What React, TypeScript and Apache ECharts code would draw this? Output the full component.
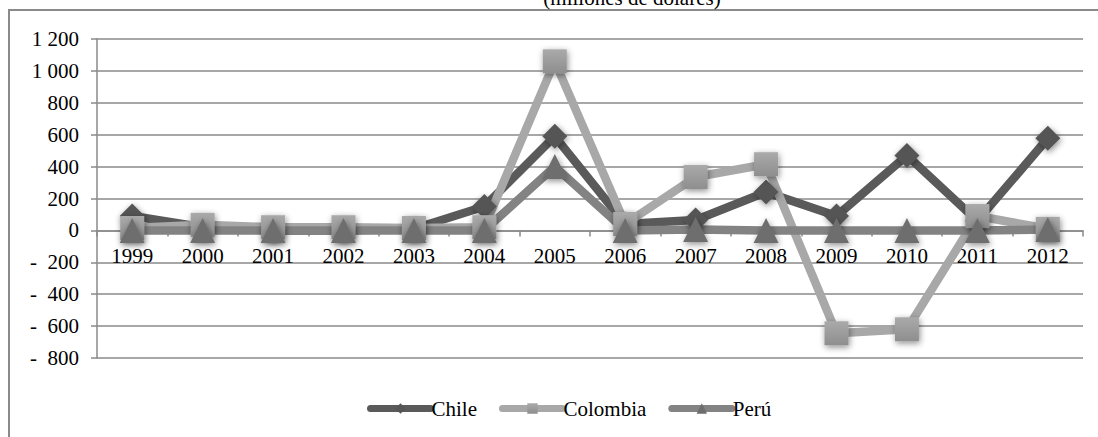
import { useEffect, useRef } from "react";
import * as echarts from "echarts";

// Annual flows by country, 1999–2012 (millions of US dollars)
const years = ["1999", "2000", "2001", "2002", "2003", "2004", "2005", "2006", "2007", "2008", "2009", "2010", "2011", "2012"];
const chile = [90, 20, 0, 0, 10, 150, 590, 40, 65, 240, 90, 470, 60, 577];
const colombia = [15, 35, 20, 20, 15, 20, 1060, 40, 335, 415, -645, -620, 90, 10];
const peru = [0, 0, 0, 0, 0, 0, 400, 0, 5, 0, 0, 0, 0, 5];
const seriesNames = ["Chile", "Colombia", "Perú"];
const yMin = -800;
const yMax = 1200;
const yStep = 200;
const titleText = "(millones de dólares)";

const FONT = '"Liberation Serif", "Times New Roman", serif';
const GRID_GRAY = "#8a8a8a";

// Plot box geometry
const GRID_TOP = 39;
const GRID_BOTTOM = 79;
const PLOT_HEIGHT = 437 - GRID_TOP - GRID_BOTTOM;

// Thousands separated by a space, negatives shown as "-  200"
function formatValue(v: number): string {
  const a = Math.abs(v);
  const body = a >= 1000 ? `${Math.floor(a / 1000)}\u00a0${String(a % 1000).padStart(3, "0")}` : String(a);
  return v < 0 ? `-\u00a0\u00a0${body}` : body;
}

// The category axis sits on the zero line: lift it from the plot's bottom edge
const zeroOffset = -PLOT_HEIGHT * (0 - yMin) / (yMax - yMin);

const markerShadow = {
  shadowBlur: 6,
  shadowColor: "rgba(0,0,0,0.45)",
  shadowOffsetX: 1,
  shadowOffsetY: 2,
};

export default function App() {
  const ref = useRef<HTMLDivElement>(null);

  useEffect(() => {
    if (!ref.current) return;
    const chart = echarts.init(ref.current, null, { renderer: "svg" });
    chart.setOption({
      animation: false,
      backgroundColor: "#ffffff",
      textStyle: { fontFamily: FONT },
      graphic: [
        {
          type: "rect",
          silent: true,
          shape: { x: 9, y: 10, width: 1100, height: 440 },
          style: { fill: "none", stroke: GRID_GRAY, lineWidth: 2 },
        },
        {
          type: "text",
          silent: true,
          x: 632,
          y: -2,
          style: {
            text: titleText,
            fontFamily: FONT,
            fontSize: 21,
            fill: "#000",
            align: "center",
            verticalAlign: "middle",
          },
        },
      ],
      grid: { left: 97, right: 15, top: GRID_TOP, bottom: GRID_BOTTOM, containLabel: false },
      legend: {
        data: seriesNames,
        left: 362,
        top: 393,
        itemWidth: 60,
        itemHeight: 13,
        itemGap: 22,
        textStyle: { fontFamily: FONT, fontSize: 21, color: "#000", padding: [0, 0, 0, -4] },
        lineStyle: { width: 7, cap: "round" },
        selectedMode: false,
      },
      xAxis: {
        type: "category",
        data: years,
        boundaryGap: true,
        position: "bottom",
        offset: zeroOffset,
        axisLine: { onZero: false, lineStyle: { color: GRID_GRAY, width: 1.5 } },
        axisTick: { show: true, length: 6, lineStyle: { color: GRID_GRAY, width: 1.5 } },
        axisLabel: { fontFamily: FONT, fontSize: 21, color: "#000", margin: 15 },
        splitLine: { show: false },
      },
      yAxis: {
        type: "value",
        min: yMin,
        max: yMax,
        interval: yStep,
        axisLine: { show: true, lineStyle: { color: GRID_GRAY, width: 1.5 } },
        axisTick: { show: true, length: 6, lineStyle: { color: GRID_GRAY, width: 1.5 } },
        axisLabel: {
          fontFamily: FONT,
          fontSize: 21,
          color: "#000",
          margin: 18,
          formatter: (v: number) => formatValue(v),
        },
        splitLine: { show: true, lineStyle: { color: GRID_GRAY, width: 1.5 } },
      },
      series: [
        {
          name: seriesNames[0],
          type: "line",
          data: chile,
          symbol: "diamond",
          symbolSize: 25,
          showAllSymbol: true,
          silent: true,
          lineStyle: { color: "#5a5a5a", width: 8.5, join: "round" },
          itemStyle: { color: "#555555", ...markerShadow },
        },
        {
          name: seriesNames[1],
          type: "line",
          data: colombia,
          symbol: "rect",
          symbolSize: 24,
          showAllSymbol: true,
          silent: true,
          lineStyle: { color: "#a8a8a8", width: 8.5, join: "round" },
          itemStyle: {
            color: new echarts.graphic.LinearGradient(0, 0, 0, 1, [
              { offset: 0, color: "#aaaaaa" },
              { offset: 1, color: "#8e8e8e" },
            ]),
            ...markerShadow,
          },
        },
        {
          name: seriesNames[2],
          type: "line",
          data: peru,
          symbol: "triangle",
          symbolSize: 25,
          showAllSymbol: true,
          silent: true,
          lineStyle: { color: "#838383", width: 8.5, join: "round" },
          itemStyle: { color: "#6e6e6e", ...markerShadow },
        },
      ],
    });
    return () => chart.dispose();
  }, []);

  return (
    <div
      ref={ref}
      style={{ position: "absolute", left: 0, top: 0, width: 1098, height: 437 }}
    />
  );
}
